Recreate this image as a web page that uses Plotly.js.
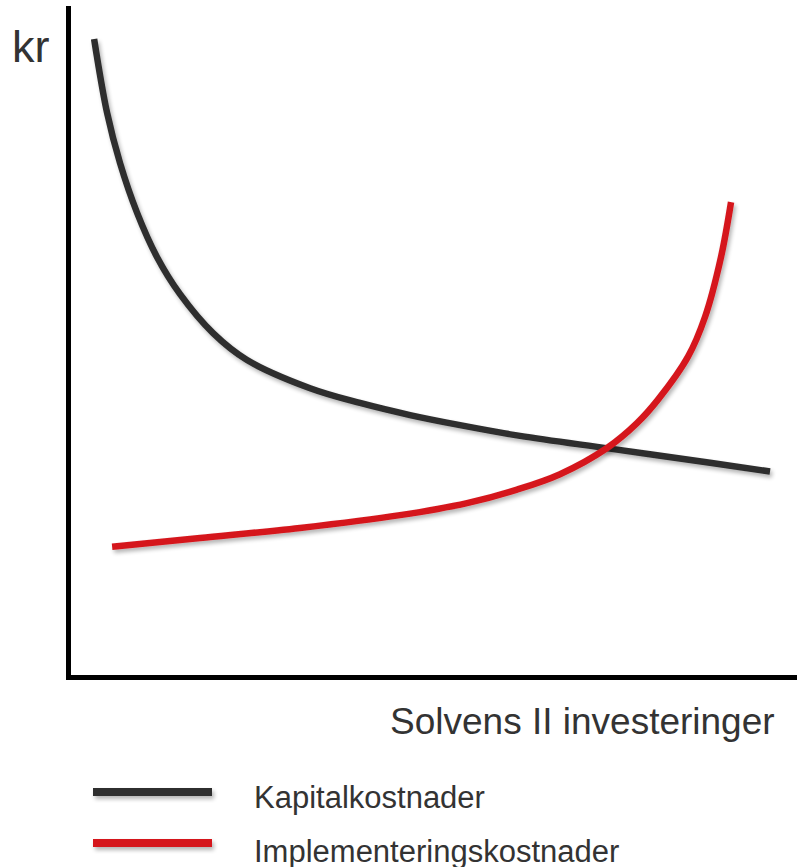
<!DOCTYPE html>
<html>
<head>
<meta charset="utf-8">
<script src="https://cdn.plot.ly/plotly-3.0.1.min.js"></script>
<style>
  html, body { margin: 0; padding: 0; background: #fff; }
  #chart { width: 797px; height: 867px; }
</style>
</head>
<body>
<div id="chart"></div>
<script>
// ---- Data (conceptual curves) ----
const seriesNames = ["Kapitalkostnader", "Implementeringskostnader"];

const kapitalX = [3.57, 5.35, 7.13, 9.47, 12.21, 15.36, 19.89, 24.55, 33.20, 40.05, 46.91, 53.77, 62.00, 74.35, 88.07, 96.30];
const kapitalY = [95.4, 84.4, 76.9, 69.5, 62.9, 57.4, 51.6, 47.6, 43.4, 41.2, 39.4, 37.9, 36.3, 34.4, 32.3, 31.0];

const implX = [6.04, 18.11, 31.82, 45.54, 54.73, 61.59, 67.49, 73.94, 78.05, 80.93, 85.05, 87.38, 89.57, 90.95];
const implY = [19.8, 21.1, 22.6, 24.5, 26.3, 28.3, 30.6, 34.5, 38.2, 41.7, 48.1, 54.0, 62.9, 71.1];

const yAxisLabel = "kr";
const xAxisLabel = "Solvens II investeringer";

const colors = ["#2f2f2f", "#d5181f"];

// ---- Layout helpers (pixel -> paper) ----
const W = 797, H = 867;
const M = { l: 71, r: 0, t: 6, b: 192 };
const PW = W - M.l - M.r, PH = H - M.t - M.b;
const px = x => (x - M.l) / PW;
const py = y => (H - M.b - y) / PH;

const textColor = "#333333";
const font = "Liberation Sans, Arial, sans-serif";

const traces = [
  { x: kapitalX, y: kapitalY, name: seriesNames[0], mode: "lines",
    line: { color: colors[0], width: 6.5, shape: "spline", smoothing: 1 } },
  { x: implX, y: implY, name: seriesNames[1], mode: "lines",
    line: { color: colors[1], width: 6.5, shape: "spline", smoothing: 1 } }
];

const layout = {
  width: W, height: H,
  margin: M,
  paper_bgcolor: "#ffffff",
  plot_bgcolor: "#ffffff",
  showlegend: false,
  xaxis: {
    range: [0.4, 100], showgrid: false, zeroline: false, showticklabels: false, ticks: "",
    showline: true, linecolor: "#000000", linewidth: 5, mirror: false, fixedrange: true
  },
  yaxis: {
    range: [0.7, 100.3], showgrid: false, zeroline: false, showticklabels: false, ticks: "",
    showline: true, linecolor: "#000000", linewidth: 5, mirror: false, fixedrange: true
  },
  annotations: [
    { text: yAxisLabel, xref: "paper", yref: "paper", x: px(31), y: py(47),
      xanchor: "center", yanchor: "middle", showarrow: false,
      font: { family: font, size: 45, color: textColor } },
    { text: xAxisLabel, xref: "paper", yref: "paper", x: px(777), y: py(722),
      xanchor: "right", yanchor: "middle", showarrow: false,
      font: { family: font, size: 37, color: textColor } },
    { text: seriesNames[0], xref: "paper", yref: "paper", x: px(252), y: py(797),
      xanchor: "left", yanchor: "middle", showarrow: false,
      font: { family: font, size: 31, color: textColor } },
    { text: seriesNames[1], xref: "paper", yref: "paper", x: px(252), y: py(851),
      xanchor: "left", yanchor: "middle", showarrow: false,
      font: { family: font, size: 31, color: textColor } }
  ],
  shapes: [
    { type: "line", xref: "paper", yref: "paper", x0: px(93), x1: px(212), y0: py(792), y1: py(792),
      line: { color: colors[0], width: 8 } },
    { type: "line", xref: "paper", yref: "paper", x0: px(93), x1: px(212), y0: py(843), y1: py(843),
      line: { color: colors[1], width: 8 } }
  ]
};

Plotly.newPlot("chart", traces, layout, { displayModeBar: false, staticPlot: true }).then(() => {
  // soft drop shadow under the curves and legend swatches, as in the reference
  const svgNS = "http://www.w3.org/2000/svg";
  const svgs = document.querySelectorAll("#chart svg.main-svg");
  svgs.forEach((svg, i) => {
    let defs = svg.querySelector("defs");
    if (!defs) { defs = document.createElementNS(svgNS, "defs"); svg.insertBefore(defs, svg.firstChild); }
    const f = document.createElementNS(svgNS, "filter");
    f.setAttribute("id", "softshadow" + i);
    f.setAttribute("filterUnits", "userSpaceOnUse");
    f.setAttribute("x", "-1000"); f.setAttribute("y", "-1000");
    f.setAttribute("width", "3000"); f.setAttribute("height", "3000");
    f.innerHTML = '<feGaussianBlur in="SourceAlpha" stdDeviation="2"/>' +
      '<feOffset dx="2" dy="3"/>' +
      '<feComponentTransfer><feFuncA type="linear" slope="0.3"/></feComponentTransfer>' +
      '<feMerge><feMergeNode/><feMergeNode in="SourceGraphic"/></feMerge>';
    defs.appendChild(f);
    svg.querySelectorAll(".scatterlayer path.js-line, .shapelayer path").forEach(p => {
      p.setAttribute("filter", "url(#softshadow" + i + ")");
    });
  });
});
</script>
</body>
</html>
